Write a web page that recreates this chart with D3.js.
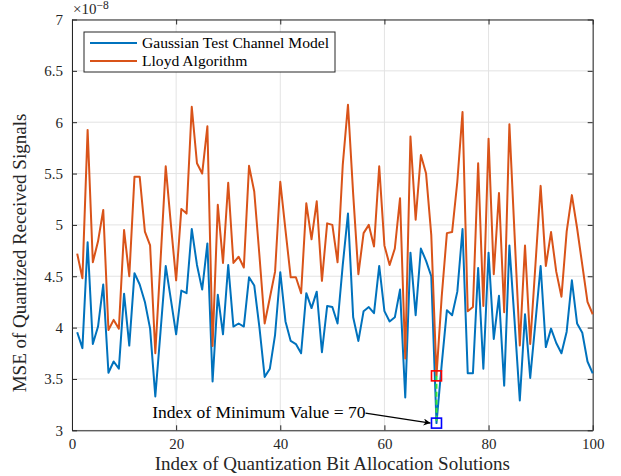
<!DOCTYPE html>
<html>
<head>
<meta charset="utf-8">
<script src="https://cdn.jsdelivr.net/npm/d3@7"></script>
<style>
  body { margin: 0; background: #fff; }
  text { font-family: "Liberation Serif", "DejaVu Serif", serif; fill: #262626; }
</style>
</head>
<body>
<div class="container"></div>
<script>
const width = 621;
const height = 476;
const margin = {top: 19.5, right: 28.3, bottom: 45.7, left: 72};

// index 1..100
const gaussian = [
  3.955, 3.80, 4.83, 3.84, 4.01, 4.42, 3.56, 3.67, 3.60, 4.33,
  3.825, 4.53, 4.42, 4.25, 3.99, 3.33, 3.96, 4.60, 4.27, 3.935,
  4.36, 4.335, 4.96, 4.61, 4.37, 4.82, 3.475, 4.32, 3.935, 4.61,
  4.01, 4.04, 4.01, 4.49, 4.41, 4.00, 3.52, 3.60, 3.93, 4.54,
  4.06, 3.87, 3.84, 3.75, 4.335, 4.19, 4.35, 3.76, 4.21, 4.20,
  4.04, 4.61, 5.11, 4.10, 3.87, 4.16, 4.20, 4.14, 4.60, 4.16,
  4.06, 4.10, 4.37, 3.32, 4.73, 4.12, 4.77, 4.65, 4.50, 3.07,
  3.64, 4.17, 4.12, 4.35, 4.96, 3.555, 3.555, 4.58, 3.60, 4.73,
  3.89, 4.31, 3.435, 4.80, 4.06, 3.29, 4.13, 3.51, 4.05, 4.60,
  3.81, 3.99, 3.85, 3.75, 3.96, 4.46, 4.04, 3.95, 3.67, 3.555
]
const lloyd = [
  4.72, 4.48, 5.925, 4.636, 4.84, 5.146, 3.977, 4.075, 3.99, 4.95,
  4.50, 5.47, 5.47, 4.935, 4.80, 3.75, 4.65, 5.57, 5.00, 4.46,
  5.156, 5.11, 6.15, 5.60, 5.50, 5.96, 3.82, 5.195, 4.63, 5.41,
  4.63, 4.69, 4.585, 5.575, 5.325, 4.70, 4.04, 4.29, 4.545, 5.42,
  4.95, 4.49, 4.49, 4.335, 5.21, 4.86, 5.23, 4.455, 5.015, 5.00,
  4.636, 5.585, 6.17, 5.30, 4.52, 4.92, 5.00, 4.79, 5.57, 4.80,
  4.61, 4.77, 5.26, 3.70, 5.86, 5.05, 5.68, 5.50, 4.90, 3.53,
  4.30, 4.92, 4.93, 5.42, 6.10, 4.16, 4.20, 5.60, 4.21, 5.84,
  4.52, 5.31, 4.15, 5.98, 4.90, 3.825, 4.80, 3.84, 4.61, 5.38,
  4.60, 4.93, 4.545, 4.30, 4.935, 5.29, 4.97, 4.61, 4.25, 4.13
]
const xTicks = [0, 20, 40, 60, 80, 100]
const yTicks = [3, 3.5, 4, 4.5, 5, 5.5, 6, 6.5, 7]
const seriesNames = ['Gaussian Test Channel Model', 'Lloyd Algorithm']
const minIndex = 70

const idx = gaussian.map((d, i) => i + 1)

var svg = d3.select('.container')
    .append('svg')
    .attr('width', width)
    .attr('height', height)

var scaleX = d3.scaleLinear()
    .domain([0, 100])
    .range([margin.left, width - margin.right])

var scaleY = d3.scaleLinear()
    .domain([3, 7])
    .range([height - margin.bottom, margin.top])

// grid
svg.append('g')
    .selectAll('line')
    .data(xTicks)
    .enter()
    .append('line')
    .attr('x1', d => scaleX(d)).attr('x2', d => scaleX(d))
    .attr('y1', scaleY(3)).attr('y2', scaleY(7))
    .style('stroke', '#e3e3e3')
    .style('stroke-width', 1)

svg.append('g')
    .selectAll('line')
    .data(yTicks)
    .enter()
    .append('line')
    .attr('x1', scaleX(0)).attr('x2', scaleX(100))
    .attr('y1', d => scaleY(d)).attr('y2', d => scaleY(d))
    .style('stroke', '#e3e3e3')
    .style('stroke-width', 1)

// axes, ticks inside on all four sides
var x_axis = d3.axisBottom(scaleX).tickValues(xTicks).tickSizeInner(-5).tickSizeOuter(0).tickPadding(8)
var x_top = d3.axisTop(scaleX).tickValues(xTicks).tickSizeInner(-5).tickSizeOuter(0).tickFormat('')
var y_axis = d3.axisLeft(scaleY).tickValues(yTicks).tickSizeInner(-5).tickSizeOuter(0).tickPadding(9)
    .tickFormat(d3.format('~g'))
var y_right = d3.axisRight(scaleY).tickValues(yTicks).tickSizeInner(-5).tickSizeOuter(0).tickFormat('')

svg.append('g').attr('transform', `translate(0, ${scaleY(3)})`).call(x_axis).attr('id', 'x-axis')
svg.append('g').attr('transform', `translate(0, ${scaleY(7)})`).call(x_top)
svg.append('g').attr('transform', `translate(${scaleX(0)}, 0)`).call(y_axis).attr('id', 'y-axis')
svg.append('g').attr('transform', `translate(${scaleX(100)}, 0)`).call(y_right)

svg.selectAll('g[id]').attr('font-family', null)
svg.selectAll('.domain').style('stroke', '#262626')
svg.selectAll('.tick line').style('stroke', '#262626')
svg.selectAll('.tick text')
    .style('font-size', '15px')
    .style('font-family', '"Liberation Serif", serif')
    .style('fill', '#262626')

// exponent
var expo = svg.append('text')
    .attr('x', scaleX(0) + 1)
    .attr('y', 13.5)
    .style('font-size', '15px')
expo.append('tspan').text('\u00d710')
expo.append('tspan').attr('dy', -5).style('font-size', '11.5px').text('\u22128')

// lines
var line = d3.line()
    .x((d, i) => scaleX(idx[i]))
    .y(d => scaleY(d))

svg.append('path')
    .datum(gaussian)
    .attr('d', line)
    .style('fill', 'none')
    .style('stroke', '#0072BD')
    .style('stroke-width', 2)
    .style('stroke-linejoin', 'round')

svg.append('path')
    .datum(lloyd)
    .attr('d', line)
    .style('fill', 'none')
    .style('stroke', '#D95319')
    .style('stroke-width', 2)
    .style('stroke-linejoin', 'round')

// minimum marker
var mx = scaleX(minIndex)
var yLloyd = scaleY(lloyd[minIndex - 1])
var yGauss = scaleY(gaussian[minIndex - 1])

svg.append('line')
    .attr('x1', mx).attr('x2', mx)
    .attr('y1', yLloyd).attr('y2', yGauss)
    .style('stroke', '#33e633')
    .style('stroke-width', 2)
    .style('stroke-dasharray', '5,3')

svg.append('rect')
    .attr('x', mx - 5).attr('y', yLloyd - 5)
    .attr('width', 10).attr('height', 10)
    .style('fill', 'none')
    .style('stroke', '#ff0000')
    .style('stroke-width', 1.6)

svg.append('rect')
    .attr('x', mx - 5).attr('y', yGauss - 5)
    .attr('width', 10).attr('height', 10)
    .style('fill', 'none')
    .style('stroke', '#0000ff')
    .style('stroke-width', 1.6)

// annotation
svg.append('defs').append('marker')
    .attr('id', 'arrow')
    .attr('viewBox', '0 0 10 10')
    .attr('refX', 10).attr('refY', 5)
    .attr('markerWidth', 9).attr('markerHeight', 7)
    .attr('markerUnits', 'userSpaceOnUse')
    .attr('orient', 'auto')
    .append('path')
    .attr('d', 'M0,0 L10,5 L0,10 L3,5 Z')
    .style('fill', '#000')

svg.append('text')
    .attr('x', mx - 71)
    .attr('y', yGauss - 5.5)
    .attr('text-anchor', 'end')
    .style('font-size', '17.5px')
    .style('fill', '#000')
    .text('Index of Minimum Value = ' + minIndex)

svg.append('line')
    .attr('x1', mx - 71).attr('y1', yGauss - 10)
    .attr('x2', mx - 6).attr('y2', yGauss)
    .style('stroke', '#000')
    .style('stroke-width', 1.3)
    .attr('marker-end', 'url(#arrow)')

// axis labels
svg.append('text')
    .attr('x', (scaleX(0) + scaleX(100)) / 2)
    .attr('y', 469.5)
    .attr('text-anchor', 'middle')
    .style('font-size', '19px')
    .text('Index of Quantization Bit Allocation Solutions')

svg.append('text')
    .attr('transform', 'rotate(-90)')
    .attr('x', -253)
    .attr('y', 26)
    .attr('text-anchor', 'middle')
    .style('font-size', '19px')
    .text('MSE of Quantized Received Signals')

// legend
var legend = svg.append('g').attr('transform', 'translate(84, 32)')
legend.append('rect')
    .attr('width', 251).attr('height', 40)
    .style('fill', '#fff')
    .style('stroke', '#262626')
    .style('stroke-width', 1)

var colors = ['#0072BD', '#D95319']
seriesNames.forEach((name, i) => {
    legend.append('line')
        .attr('x1', 6).attr('x2', 53)
        .attr('y1', 11 + i * 18).attr('y2', 11 + i * 18)
        .style('stroke', colors[i])
        .style('stroke-width', 2)
    legend.append('text')
        .attr('x', 58)
        .attr('y', 16 + i * 18)
        .style('font-size', '15.6px')
        .style('fill', '#000')
        .text(name)
})
</script>
</body>
</html>
